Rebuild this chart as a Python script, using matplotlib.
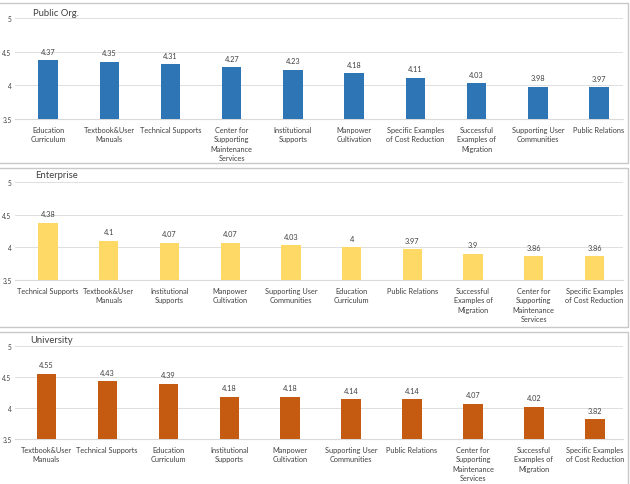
import matplotlib
matplotlib.use("Agg")
import matplotlib.pyplot as plt
from matplotlib.patches import Rectangle

W, H = 630, 485
DPI = 100

# ---------------- data ----------------
public_labels = ["Education\nCurriculum", "Textbook&User\nManuals", "Technical Supports",
                 "Center for\nSupporting\nMaintenance\nServices", "Institutional\nSupports",
                 "Manpower\nCultivation", "Specific Examples\nof Cost Reduction",
                 "Successful\nExamples of\nMigration", "Supporting User\nCommunities",
                 "Public Relations"]
public_values = [4.37, 4.35, 4.31, 4.27, 4.23, 4.18, 4.11, 4.03, 3.98, 3.97]
public_text = ["4.37", "4.35", "4.31", "4.27", "4.23", "4.18", "4.11", "4.03", "3.98", "3.97"]

enterprise_labels = ["Technical Supports", "Textbook&User\nManuals", "Institutional\nSupports",
                     "Manpower\nCultivation", "Supporting User\nCommunities",
                     "Education\nCurriculum", "Public Relations",
                     "Successful\nExamples of\nMigration",
                     "Center for\nSupporting\nMaintenance\nServices",
                     "Specific Examples\nof Cost Reduction"]
enterprise_values = [4.38, 4.1, 4.07, 4.07, 4.03, 4.0, 3.97, 3.9, 3.86, 3.86]
enterprise_text = ["4.38", "4.1", "4.07", "4.07", "4.03", "4", "3.97", "3.9", "3.86", "3.86"]

university_labels = ["Textbook&User\nManuals", "Technical Supports", "Education\nCurriculum",
                     "Institutional\nSupports", "Manpower\nCultivation",
                     "Supporting User\nCommunities", "Public Relations",
                     "Center for\nSupporting\nMaintenance\nServices",
                     "Successful\nExamples of\nMigration",
                     "Specific Examples\nof Cost Reduction"]
university_values = [4.55, 4.43, 4.39, 4.18, 4.18, 4.14, 4.14, 4.07, 4.02, 3.82]
university_text = ["4.55", "4.43", "4.39", "4.18", "4.18", "4.14", "4.14", "4.07", "4.02", "3.82"]

y_ticks = [3.5, 4, 4.5, 5]
y_ticklabels = ["3.5", "4", "4.5", "5"]

# ---------------- style ----------------
plt.rcParams['font.family'] = ['Lato', 'DejaVu Sans']
TXT = "#404040"
GRID = "#D9D9D9"

fig = plt.figure(figsize=(W / DPI, H / DPI), dpi=DPI)

def fx(px):
    return px / W

def fy(py):
    return 1 - py / H

# panel frames (pixel coords: x0, top, x1, bottom)
frames = [(-3, 4, 628, 164), (-3, 169, 628, 328), (-3, 333, 628, 490)]
for x0, t, x1, b in frames:
    fig.patches.append(Rectangle((fx(x0), fy(b)), fx(x1 - x0), (b - t) / H,
                                 transform=fig.transFigure, fill=False,
                                 edgecolor="#C8C8C8", linewidth=1.0))

panels = [
    ("Public Org.", public_labels, public_values, public_text, "#2E75B6",
     (19, 120), (-0.539, 9.39), (33, 13)),
    ("Enterprise", enterprise_labels, enterprise_values, enterprise_text, "#FFD966",
     (183, 281), (-0.544, 9.47), (35, 176)),
    ("University", university_labels, university_values, university_text, "#C55A11",
     (347, 440), (-0.513, 9.46), (30, 341)),
]

for title, labels, values, texts, color, (ytop, ybot), xl, (tx, ty) in panels:
    ax = fig.add_axes([fx(15), fy(ybot), fx(623 - 15), (ybot - ytop) / H])
    x = list(range(len(values)))
    ax.bar(x, [v - 3.5 for v in values], bottom=3.5, width=0.317, color=color, zorder=3)
    ax.set_xlim(*xl)
    ax.set_ylim(3.5, 5)
    ax.set_yticks(y_ticks)
    ax.set_yticklabels(y_ticklabels, fontsize=4.8, color=TXT)
    ax.set_xticks(x)
    ax.set_xticklabels(labels, fontsize=5.3, color=TXT, linespacing=1.4, va="top")
    ax.tick_params(axis="both", length=0)
    ax.tick_params(axis="x", pad=5)
    ax.tick_params(axis="y", pad=2.5)
    for s in ["top", "right", "left"]:
        ax.spines[s].set_visible(False)
    ax.spines["bottom"].set_color(GRID)
    ax.spines["bottom"].set_linewidth(0.8)
    ax.grid(axis="y", color=GRID, linewidth=0.6, zorder=0)
    ax.set_axisbelow(True)
    ax.patch.set_alpha(0)
    for xi, v, t in zip(x, values, texts):
        ax.annotate(t, (xi, v), xytext=(0, 4), textcoords="offset points",
                    ha="center", va="bottom", fontsize=5.3, color=TXT)
    fig.text(fx(tx), fy(ty), title, fontsize=6.8, color=TXT, ha="left", va="center")

fig.savefig("out.png", dpi=DPI)
